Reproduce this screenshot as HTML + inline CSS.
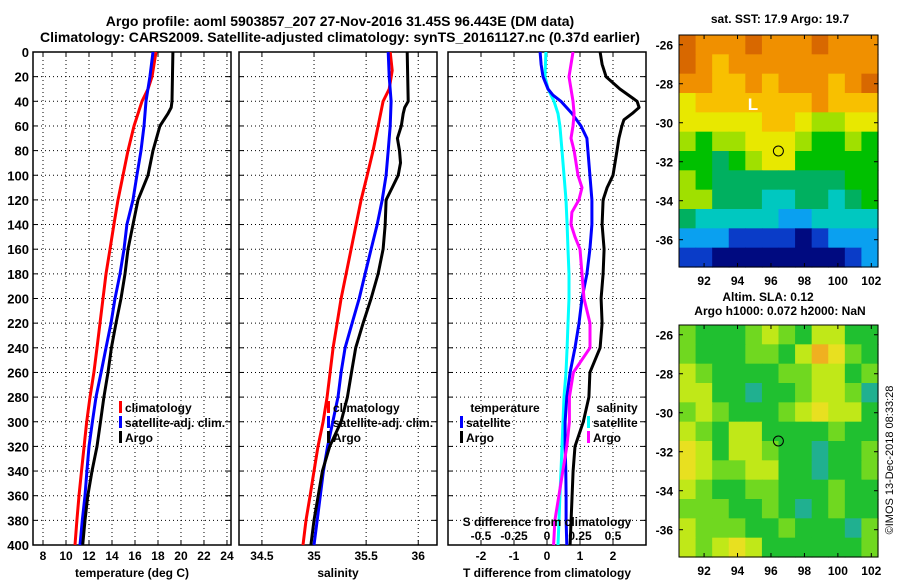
<!DOCTYPE html>
<html><head><meta charset="utf-8"><style>
body{margin:0;background:#fff;}
svg{display:block;font-family:"Liberation Sans",sans-serif;font-weight:bold;}
text{font-size:12px;fill:#000;}
</style></head><body>
<svg id="c" width="900" height="580"></svg>
<script>
// ---------- data ----------
const tDepthRed=[0,20,30,40,60,80,100,120,140,160,180,200,220,240,260,280,300,320,340,360,380,400];
const tRed=[17.83,17.48,17.13,16.61,15.91,15.39,14.96,14.52,14.17,13.83,13.48,13.22,12.96,12.70,12.43,12.09,11.80,11.57,11.35,11.13,10.95,10.78];
const tDepthBlue=[0,20,40,60,80,100,120,140,160,180,200,220,240,260,280,300,320,340,360,380,400];
const tBlue=[17.57,17.30,16.96,16.78,16.52,16.17,15.83,15.30,15.04,14.70,14.26,13.91,13.48,13.05,12.61,12.30,12.00,11.82,11.65,11.42,11.22];
const tDepthArgo=[0,40,45,50,60,80,100,120,140,160,180,200,220,240,260,280,300,320,340,360,380,400];
const tArgo=[19.30,19.22,19.15,18.87,18.17,17.57,17.13,16.26,15.83,15.39,15.13,14.78,14.35,13.95,13.65,13.30,13.00,12.70,12.26,11.90,11.65,11.45];

const sDepthRed=[0,15,30,40,60,80,100,120,140,160,180,200,220,240,260,280,300,320,340,360,380,400];
const sRed=[35.731,35.75,35.721,35.663,35.615,35.567,35.510,35.452,35.404,35.356,35.308,35.260,35.221,35.183,35.154,35.125,35.087,35.038,35.000,34.962,34.923,34.894];
const sDepthBlue=[0,20,40,60,80,100,120,140,160,180,200,220,240,260,280,300,320,340,360,380,400];
const sBlue=[35.712,35.721,35.740,35.731,35.712,35.692,35.654,35.606,35.548,35.490,35.433,35.365,35.298,35.260,35.230,35.180,35.130,35.090,35.060,35.030,35.000];
const sDepthArgo=[0,40,45,50,60,70,80,90,100,110,120,140,160,180,200,220,240,260,280,300,320,340,360,380,400];
const sArgo=[35.894,35.904,35.870,35.856,35.837,35.800,35.820,35.830,35.808,35.750,35.692,35.683,35.663,35.615,35.548,35.471,35.400,35.360,35.320,35.260,35.150,35.080,35.040,35.000,34.970];

const dDepthTSat=[0,10,20,30,35,40,50,60,70,80,100,120,140,160,180,200,220,240,260,280,300,320,340,360,380,400];
const dTSat=[-0.21,-0.18,-0.12,0.03,0.18,0.42,0.76,1.03,1.21,1.24,1.30,1.36,1.36,1.30,1.21,1.06,0.97,0.85,0.70,0.60,0.55,0.55,0.57,0.58,0.58,0.60];
const dDepthTArgo=[0,10,20,30,40,45,50,55,60,70,80,100,110,120,140,160,180,200,220,240,260,280,300,320,340,360,380,400];
const dTArgo=[1.61,1.67,1.79,2.21,2.73,2.79,2.58,2.33,2.27,2.18,2.12,2.00,1.82,1.70,1.67,1.73,1.70,1.64,1.67,1.61,1.30,1.27,1.10,0.85,0.79,0.76,0.73,0.70];
const dDepthSSat=[0,20,30,40,50,60,80,100,120,140,160,180,200,220,240,260,280,300,320,340,360,380,400];
const dSSat=[-0.008,-0.015,0.008,0.053,0.083,0.098,0.114,0.129,0.144,0.152,0.159,0.167,0.167,0.159,0.152,0.144,0.129,0.121,0.114,0.106,0.098,0.091,0.083];
const dDepthSArgo=[0,20,40,50,60,70,80,100,110,120,130,140,150,160,180,200,220,240,260,280,300,320,340,360,380,400];
const dSArgo=[0.197,0.167,0.197,0.205,0.197,0.182,0.205,0.235,0.265,0.242,0.189,0.182,0.212,0.250,0.265,0.280,0.326,0.326,0.20,0.17,0.17,0.15,0.12,0.09,0.06,0.05];

const depthTicks=[0,20,40,60,80,100,120,140,160,180,200,220,240,260,280,300,320,340,360,380,400];
const tTicks=[8,10,12,14,16,18,20,22,24];
const sTicks=[34.5,35,35.5,36];
const dTTicks=[-2,-1,0,1,2];
const dSTicks=[-0.5,-0.25,0,0.25,0.5];
const dSTickLabels=["-0.5","-0.25","0","0.25","0.5"];

const lonTicks=[92,94,96,98,100,102];
const latTicks=[-26,-28,-30,-32,-34,-36];
const argoLon=96.443, argoLat=-31.45;
const sstColors=["#000a80","#0a3cc8","#0aa0f0","#00c8c0","#00b060","#00c000","#a0e000","#e8e800","#f8c000","#f09000","#d86800"];
const sstGrid=[
[10,9,9,9,10,9,9,9,10,9,9,9],
[10,9,8,9,9,9,9,9,9,9,9,9],
[9,9,8,8,9,8,9,9,9,8,9,10],
[7,8,8,8,8,8,8,8,9,8,8,8],
[7,7,7,7,7,8,8,7,6,6,7,7],
[6,5,6,6,7,7,7,6,5,5,6,5],
[5,5,4,5,6,7,7,5,5,5,5,5],
[6,5,4,4,4,4,4,4,4,4,5,5],
[6,6,4,4,4,3,3,4,4,3,4,5],
[4,3,3,3,3,3,2,2,3,3,3,3],
[2,2,2,1,1,1,1,0,1,2,2,2],
[1,1,0,0,0,0,0,0,0,0,1,2]];
const slaColors=["#20b090","#20c030","#70d820","#c0e818","#e8e020","#f0b020"];
const slaGrid=[
[2,1,1,1,2,3,2,1,3,3,1,1],
[2,1,1,1,2,2,1,3,5,4,2,1],
[3,2,1,1,1,1,2,2,3,3,1,2],
[3,3,1,1,0,1,1,2,3,3,2,0],
[2,3,2,1,1,1,2,3,4,3,3,1],
[3,2,1,3,3,1,1,1,1,2,1,1],
[4,3,1,3,3,2,1,1,0,1,1,2],
[4,3,2,2,3,3,1,1,0,1,1,2],
[3,2,1,1,2,2,1,1,1,2,1,1],
[2,2,2,1,1,2,1,0,1,2,1,1],
[3,2,2,2,1,1,2,1,1,1,0,2],
[3,2,3,4,3,1,1,1,1,1,1,2]];

// ---------- drawing ----------
const svg=document.getElementById('c');
const NS='http://www.w3.org/2000/svg';
function mk(tag,attrs,parent){const e=document.createElementNS(NS,tag);for(const k in attrs)e.setAttribute(k,attrs[k]);(parent||svg).appendChild(e);return e;}
function txt(x,y,s,anchor,parent,size){const t=mk('text',{x:x,y:y,'text-anchor':anchor||'middle'},parent);if(size)t.style.fontSize=size+'px';t.textContent=s;return t;}

const yTop=52,yBot=545;
const yD=d=>yTop+(d/400)*(yBot-yTop);

function panel(name,x0,x1,dmin,dmax,xticks,labels,showDepth){
  const g=mk('g',{});
  
  
  const xs=v=>x0+(v-dmin)/(dmax-dmin)*(x1-x0);
  depthTicks.forEach(d=>{const y=yD(d);
    mk('line',{x1:x0,x2:x1,y1:y,y2:y,stroke:'#000','stroke-width':1,'stroke-dasharray':'1,3'},g);
    mk('line',{x1:x0,x2:x0+5,y1:y,y2:y,stroke:'#000'},g);
    mk('line',{x1:x1-5,x2:x1,y1:y,y2:y,stroke:'#000'},g);
    if(showDepth)txt(x0-4,y+5,String(d),'end',g,13);
  });
  xticks.forEach((v,i)=>{const x=xs(v);
    mk('line',{x1:x,x2:x,y1:yTop,y2:yBot,stroke:'#000','stroke-width':1,'stroke-dasharray':'1,3'},g);
    mk('line',{x1:x,x2:x,y1:yBot-5,y2:yBot,stroke:'#000'},g);
    mk('line',{x1:x,x2:x,y1:yTop,y2:yTop+5,stroke:'#000'},g);
    if(labels)txt(x,560,labels[i],'middle',g);
  });
  mk('rect',{x:x0,y:yTop,width:x1-x0,height:yBot-yTop,fill:'none',stroke:'#000','stroke-width':1.5},g);
  return {g,xs};
}
function series(p,name,vals,depths,color,xsFn){
  const pts=vals.map((v,i)=>xsFn(v).toFixed(1)+','+yD(depths[i]).toFixed(1)).join(' ');
  const l=mk('polyline',{points:pts,fill:'none',stroke:color,'stroke-width':3,'stroke-linejoin':'round'},p.g);
  
  
}
function legendEntry(g,x,y,color,label,name){
  const e=mk('g',{},g);
  
  
  mk('rect',{x:x,y:y-11,width:3,height:12,fill:color},e);
  txt(x+6,y,label,'start',e);
}

const t1=txt(340,26,'Argo profile: aoml 5903857_207 27-Nov-2016 31.45S 96.443E (DM data)','middle',svg,14);


const t2=txt(340,42,'Climatology: CARS2009. Satellite-adjusted climatology: synTS_20161127.nc (0.37d earlier)','middle',svg,14);



const p1=panel('temperature-panel',33,231,7.13,24.35,tTicks,tTicks.map(String),true);
series(p1,'temperature-climatology-line',tRed,tDepthRed,'#ff0000',p1.xs);
series(p1,'temperature-satellite-adj-line',tBlue,tDepthBlue,'#0000ff',p1.xs);
series(p1,'temperature-argo-line',tArgo,tDepthArgo,'#000',p1.xs);
legendEntry(p1.g,119,412,'#ff0000','climatology','legend-climatology');
legendEntry(p1.g,119,427,'#0000ff','satellite-adj. clim.','legend-satellite-adj');
legendEntry(p1.g,119,442,'#000','Argo','legend-argo');
const xt1=txt(132,577,'temperature (deg C)');



const p2=panel('salinity-panel',239,437,34.28,36.18,sTicks,['34.5','35','35.5','36'],false);
series(p2,'salinity-climatology-line',sRed,sDepthRed,'#ff0000',p2.xs);
series(p2,'salinity-satellite-adj-line',sBlue,sDepthBlue,'#0000ff',p2.xs);
series(p2,'salinity-argo-line',sArgo,sDepthArgo,'#000',p2.xs);
legendEntry(p2.g,327,412,'#ff0000','climatology','legend-climatology');
legendEntry(p2.g,327,427,'#0000ff','satellite-adj. clim.','legend-satellite-adj');
legendEntry(p2.g,327,442,'#000','Argo','legend-argo');
const xt2=txt(338,577,'salinity');



const p3=panel('difference-panel',448,646,-3,3,dTTicks,dTTicks.map(String),false);
const xsS=v=>448+(v+0.75)/1.5*198;
series(p3,'salinity-satellite-diff-line',dSSat,dDepthSSat,'#00ffff',xsS);
series(p3,'temperature-satellite-diff-line',dTSat,dDepthTSat,'#0000ff',p3.xs);
series(p3,'salinity-argo-diff-line',dSArgo,dDepthSArgo,'#ff00ff',xsS);
series(p3,'temperature-argo-diff-line',dTArgo,dDepthTArgo,'#000',p3.xs);
txt(505,412,'temperature','middle',p3.g);
legendEntry(p3.g,460,427,'#0000ff','satellite','legend-t-satellite');
legendEntry(p3.g,460,442,'#000','Argo','legend-t-argo');
txt(617,412,'salinity','middle',p3.g);
legendEntry(p3.g,587,427,'#00ffff','satellite','legend-s-satellite');
legendEntry(p3.g,587,442,'#ff00ff','Argo','legend-s-argo');
const st=txt(547,526,'S difference from climatology','middle',p3.g);


dSTicks.forEach((v,i)=>txt(xsS(v),540,dSTickLabels[i],'middle',p3.g));
const xt3=txt(547,577,'T difference from climatology');



function map(name,y0,y1,grid,colors){
  const g=mk('g',{});
  
  
  const x0=679,x1=878;
  const lon0=90.5,lon1=102.4,lat0=-25.5,lat1=-37.4;
  const xs=v=>x0+(v-lon0)/(lon1-lon0)*(x1-x0);
  const ys=v=>y0+(v-lat0)/(lat1-lat0)*(y1-y0);
  const rows=grid.length,cols=grid[0].length;
  const cw=(x1-x0)/cols,ch=(y1-y0)/rows;
  grid.forEach((r,i)=>r.forEach((c,j)=>{
    const cell=mk('rect',{x:x0+j*cw,y:y0+i*ch,width:cw+0.6,height:ch+0.6,fill:colors[c]},g);
    
    
  }));
  mk('rect',{x:x0,y:y0,width:x1-x0,height:y1-y0,fill:'none',stroke:'#000','stroke-width':1},g);
  lonTicks.forEach(v=>{const x=xs(v);mk('line',{x1:x,x2:x,y1:y1-4,y2:y1,stroke:'#000'},g);mk('line',{x1:x,x2:x,y1:y0,y2:y0+4,stroke:'#000'},g);txt(x,y1+18,String(v),'middle',g);});
  latTicks.forEach(v=>{const y=ys(v);mk('line',{x1:x0,x2:x0+4,y1:y,y2:y,stroke:'#000'},g);mk('line',{x1:x1-4,x2:x1,y1:y,y2:y,stroke:'#000'},g);txt(x0-6,y+5,String(v),'end',g);});
  const m=mk('circle',{cx:xs(argoLon),cy:ys(argoLat),r:5,fill:'none',stroke:'#000','stroke-width':1},g);
  
  
  return {g,xs,ys};
}
txt(780,23,'sat. SST: 17.9 Argo: 19.7');
const m1=map('sst-map',35,267,sstGrid,sstColors);
m1.g.querySelector('circle').setAttribute('fill','#e8e800');
const L=txt(753,110,'L','middle',m1.g,17);L.style.fill='#fff';
txt(768,301,'Altim. SLA: 0.12');
txt(780,315,'Argo h1000: 0.072 h2000: NaN');
const m2=map('sla-map',325,557,slaGrid,slaColors);
const cp=txt(0,0,'©IMOS 13-Dec-2018 08:33:28','middle',svg,11);
cp.setAttribute('transform','translate(893,460) rotate(-90)');
cp.style.fontWeight='normal';


</script>
</body></html>
